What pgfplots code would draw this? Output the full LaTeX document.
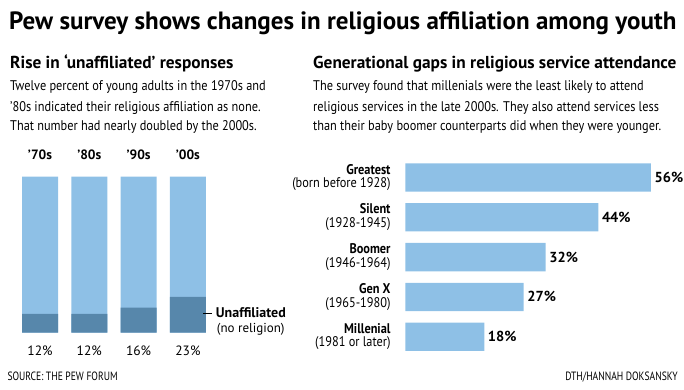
\documentclass[border=0pt]{standalone}
\usepackage{pgfplots}
\pgfplotsset{compat=1.18}
\usepackage{fontspec}
\setmainfont{PT Sans}[FakeStretch=0.88]
\newfontfamily\widefont{PT Sans}
\newfontfamily\condfont{PT Sans}[FakeStretch=0.8]
\definecolor{lightb}{HTML}{8EC0E6}
\definecolor{darkb}{HTML}{5787AB}
\newcommand{\fs}[1]{\fontsize{#1}{#1}\selectfont}
\begin{document}
\begin{tikzpicture}
\path[use as bounding box] (0pt,0pt) rectangle (684pt,389pt);
% titles
\node[anchor=base west, inner sep=0pt, font=\fs{25}\widefont\bfseries] at (9pt,359pt) {Pew survey shows changes in religious affiliation among youth};
\node[anchor=base west, inner sep=0pt, font=\fs{17.3}\widefont\bfseries] at (10pt,320.7pt) {Rise in ‘unaffiliated’ responses};
\node[anchor=base west, inner sep=0pt, font=\fs{17.3}\widefont\bfseries] at (313pt,320.7pt) {Generational gaps in religious service attendance};
\node[anchor=base west, inner sep=0pt, font=\fs{14}] at (10pt,298.3pt) {Twelve percent of young adults in the 1970s and};
\node[anchor=base west, inner sep=0pt, font=\fs{14}] at (10pt,278pt) {’80s indicated their religious affiliation as none.};
\node[anchor=base west, inner sep=0pt, font=\fs{14}] at (10pt,258.5pt) {That number had nearly doubled by the 2000s.};
\node[anchor=base west, inner sep=0pt, font=\fs{14}] at (313pt,298.3pt) {The survey found that millenials were the least likely to attend};
\node[anchor=base west, inner sep=0pt, font=\fs{14}] at (313pt,278pt) {religious services in the late 2000s. They also attend services less};
\node[anchor=base west, inner sep=0pt, font=\fs{14}] at (313pt,258.5pt) {than their baby boomer counterparts did when they were younger.};
% left chart
\begin{axis}[at={(15.35pt,56.3pt)}, anchor=south west, scale only axis,
  width=197.2pt, height=156pt, xmin=-0.5, xmax=3.5, ymin=0, ymax=100,
  axis line style={draw=none}, major tick style={draw=none}, ytick=\empty,
  xtick={0,1,2,3}, xticklabels={12\%,12\%,16\%,23\%},
  xticklabel style={font=\fs{13.5}\widefont, anchor=base, inner sep=0pt, yshift=-19pt},
  ybar, bar width=36pt, bar shift=0pt, clip=false]
\addplot[fill=lightb, draw=none, point meta=explicit symbolic,
  nodes near coords, nodes near coords style={font=\fs{13.5}\widefont\bfseries, anchor=base, inner sep=0pt, yshift=17pt}]
  coordinates {(0,100) [’70s] (1,100) [’80s] (2,100) [’90s] (3,100) [’00s]};
\addplot[fill=darkb, draw=none] coordinates {(0,12) (1,12) (2,16) (3,23)};
\end{axis}
\draw[black, line width=0.6pt] (203pt,76pt) -- (212pt,76pt);
\node[anchor=west, inner sep=0pt, font=\fs{14}\widefont\bfseries] at (215.7pt,76pt) {Unaffiliated};
\node[anchor=west, inner sep=0pt, font=\fs{13}\widefont] at (216.7pt,60pt) {(no religion)};
% right chart
\begin{axis}[at={(405.3pt,231.4pt)}, anchor=north west, scale only axis,
  width=263.2pt, height=199pt, xmin=0, xmax=60, ymin=-0.5, ymax=4.5,
  y dir=reverse, xbar, bar width=28.3pt, bar shift=0pt,
  axis line style={draw=none}, major tick style={draw=none}, xtick=\empty,
  ytick={0,1,2,3,4},
  yticklabels={{\textbf{Greatest}\\(born before 1928)},{\textbf{Silent}\\(1928-1945)},{\textbf{Boomer}\\(1946-1964)},{\textbf{Gen X}\\(1965-1980)},{\textbf{Millenial}\\(1981 or later)}},
  yticklabel style={align=right, font=\fontsize{14}{13.6}\selectfont, anchor=east, inner sep=0pt, xshift=-10.3pt},
  /pgf/number format/assume math mode=true,
  nodes near coords={\pgfmathprintnumber{\pgfplotspointmeta}\%},
  nodes near coords style={font=\fs{14.5}\widefont\bfseries, anchor=west, inner sep=0pt, xshift=3.5pt},
  clip=false]
\addplot[fill=lightb, draw=none] coordinates {(56,0) (44,1) (32,2) (27,3) (18,4)};
\end{axis}
\node[anchor=base west, inner sep=0pt, font=\fs{12}\condfont] at (7.3pt,8.3pt) {SOURCE: THE PEW FORUM};
\node[anchor=base east, inner sep=0pt, font=\fs{12}\condfont] at (678pt,8.3pt) {DTH/HANNAH DOKSANSKY};
\end{tikzpicture}
\end{document}
